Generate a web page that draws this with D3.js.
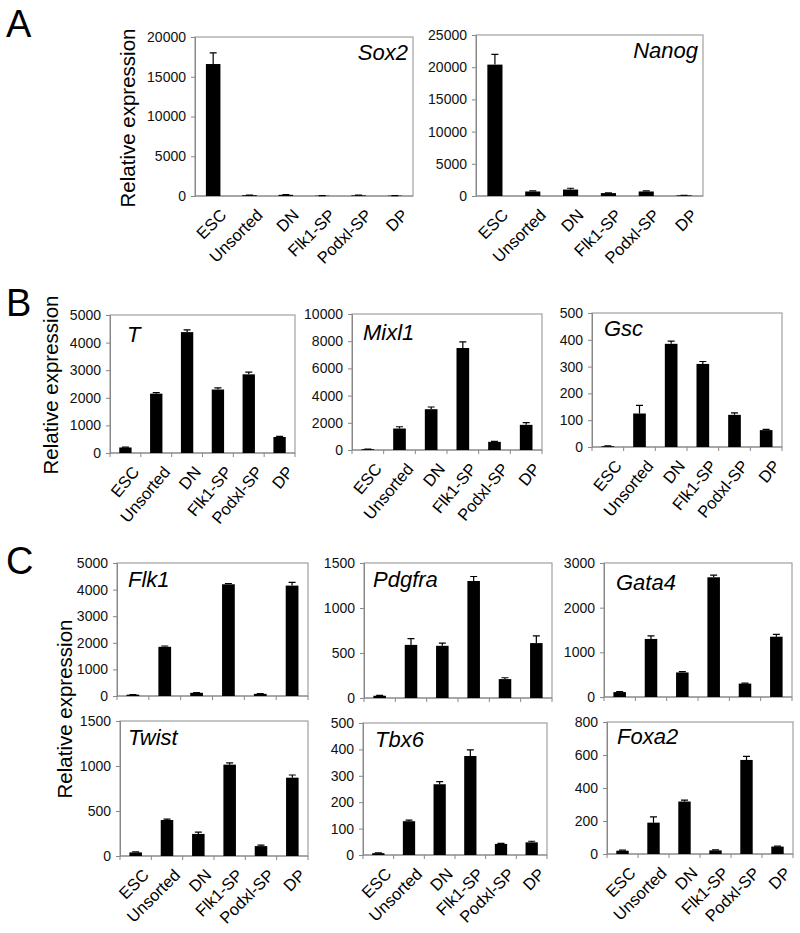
<!DOCTYPE html>
<html><head><meta charset="utf-8">
<script src="https://cdn.jsdelivr.net/npm/d3@7"></script>
<style>body{margin:0;background:#fff}svg{display:block;font-family:"Liberation Sans",Arial,sans-serif}</style>
</head><body><svg id="c" width="800" height="933"></svg>
<script>
const categories = ["ESC","Unsorted","DN","Flk1-SP","Podxl-SP","DP"];

const sox2Values = [16600,100,150,30,80,40];
const sox2Errors = [1400,20,30,10,20,10];
const sox2Ticks = [0,5000,10000,15000,20000];

const nanogValues = [20400,700,1000,450,700,100];
const nanogErrors = [1600,100,200,50,100,20];
const nanogTicks = [0,5000,10000,15000,20000,25000];

const tValues = [200,2150,4380,2300,2850,580];
const tErrors = [15,40,80,60,80,25];
const tTicks = [0,1000,2000,3000,4000,5000];

const mixl1Values = [60,1580,3000,7500,600,1850];
const mixl1Errors = [10,130,160,450,30,160];
const mixl1Ticks = [0,2000,4000,6000,8000,10000];

const gscValues = [3,125,385,310,120,63];
const gscErrors = [1,30,10,9,7,3];
const gscTicks = [0,100,200,300,400,500];

const flk1Values = [50,1850,120,4200,80,4150];
const flk1Errors = [5,30,10,30,8,120];
const flk1Ticks = [0,1000,2000,3000,4000,5000];

const pdgfraValues = [25,590,580,1300,210,610];
const pdgfraErrors = [5,70,30,50,15,80];
const pdgfraTicks = [0,500,1000,1500];

const gata4Values = [110,1300,550,2680,300,1350];
const gata4Errors = [10,70,20,50,12,50];
const gata4Ticks = [0,1000,2000,3000];

const twistValues = [40,400,245,1015,110,870];
const twistErrors = [5,10,20,20,10,30];
const twistTicks = [0,500,1000,1500];

const tbx6Values = [7,128,268,375,42,48];
const tbx6Errors = [1,4,10,23,2,4];
const tbx6Ticks = [0,100,200,300,400,500];

const foxa2Values = [20,190,318,22,570,45];
const foxa2Errors = [3,35,8,3,22,3];
const foxa2Ticks = [0,200,400,600,800];

const svg = d3.select("#c");
const FRAME = "#a0a0a0";

function chart(o){
  const {x0,x1,y0,y1,values,errors,ticks,gene,geneRight,labels} = o;
  const g = svg.append("g");
  const x = d3.scaleBand().domain(categories).range([x0,x1]).paddingInner(0).paddingOuter(0);
  const y = d3.scaleLinear().domain([0,d3.max(ticks)]).range([y1,y0]);
  g.append("rect").attr("x",x0).attr("y",y0).attr("width",x1-x0).attr("height",y1-y0)
    .attr("fill","none").attr("stroke",FRAME).attr("stroke-width",1.2);
  const ya = d3.axisLeft(y).tickValues(ticks).tickSize(4).tickPadding(5).tickFormat(d3.format("d"));
  const yg = g.append("g").attr("transform",`translate(${x0},0)`).call(ya);
  yg.select(".domain").attr("stroke","#888");
  yg.selectAll(".tick line").attr("stroke","#888");
  yg.selectAll("text").attr("font-size",14).attr("fill","#111").attr("font-family","Liberation Sans, Arial, sans-serif");
  if(o.xticks){
    const bounds = categories.map(c=>x(c)).concat([x1]);
    g.selectAll(".xt").data(bounds).join("line")
      .attr("x1",d=>d).attr("x2",d=>d).attr("y1",y1).attr("y2",y1+4).attr("stroke","#888");
  }
  g.append("line").attr("x1",x0).attr("x2",x1).attr("y1",y1).attr("y2",y1).attr("stroke","#888").attr("stroke-width",1.2);
  const bw = x.bandwidth()*0.4;
  const cx = c=>x(c)+x.bandwidth()/2;
  g.selectAll(".bar").data(categories).join("rect")
    .attr("x",(c)=>cx(c)-bw/2).attr("width",bw)
    .attr("y",(c,i)=>y(values[i])).attr("height",(c,i)=>y1-y(values[i])).attr("fill","#000");
  g.selectAll(".eb").data(categories).join("path")
    .attr("d",(c,i)=>{const xc=cx(c),yt=y(values[i]+errors[i]),yb=y(values[i]);
      return `M${xc},${yb}V${yt}M${xc-3.5},${yt}H${xc+3.5}`;})
    .attr("stroke","#000").attr("stroke-width",1.2).attr("fill","none");
  const gl = g.append("text").text(gene).attr("font-style","italic").attr("font-size",o.geneSize||22)
    .attr("y",y0+(o.geneDy||24)).attr("fill","#000");
  if(geneRight) gl.attr("x",x1-5).attr("text-anchor","end"); else gl.attr("x",x0+(o.geneDx||12));
  if(labels){
    const ang = o.angle||45;
    g.selectAll(".xl").data(categories).join("text")
      .attr("transform",c=>`translate(${cx(c)+6},${y1+12}) rotate(-${ang})`)
      .attr("text-anchor","end").attr("dy","0.7em").attr("font-size",16.5).attr("fill","#000")
      .text(c=>c);
  }
}

chart({x0:195,x1:413,y0:37,y1:196,values:sox2Values,errors:sox2Errors,ticks:sox2Ticks,gene:"Sox2",geneRight:true,labels:true,geneSize:22,geneDy:23});
chart({x0:476,x1:703,y0:35,y1:196,values:nanogValues,errors:nanogErrors,ticks:nanogTicks,gene:"Nanog",geneRight:true,labels:true,geneSize:22,geneDy:23});

chart({x0:110,x1:295,y0:315,y1:453,values:tValues,errors:tErrors,ticks:tTicks,gene:"T",labels:true,xticks:true,geneDx:17,geneDy:27,angle:50});
chart({x0:352,x1:542,y0:314,y1:450,values:mixl1Values,errors:mixl1Errors,ticks:mixl1Ticks,gene:"Mixl1",labels:true,xticks:true,geneDx:11,geneDy:26,angle:50});
chart({x0:592,x1:782,y0:313,y1:447,values:gscValues,errors:gscErrors,ticks:gscTicks,gene:"Gsc",labels:true,xticks:true,geneDx:12,geneDy:23,angle:50});

chart({x0:117,x1:308,y0:563,y1:696,values:flk1Values,errors:flk1Errors,ticks:flk1Ticks,gene:"Flk1",labels:false,xticks:true,geneDx:11,geneDy:24});
chart({x0:364,x1:552,y0:563,y1:698,values:pdgfraValues,errors:pdgfraErrors,ticks:pdgfraTicks,gene:"Pdgfra",labels:false,xticks:true,geneDx:9,geneDy:24});
chart({x0:604,x1:792,y0:563,y1:697,values:gata4Values,errors:gata4Errors,ticks:gata4Ticks,gene:"Gata4",labels:false,xticks:true,geneDx:12,geneDy:27});

chart({x0:120,x1:308,y0:721,y1:856,values:twistValues,errors:twistErrors,ticks:twistTicks,gene:"Twist",labels:true,xticks:true,geneDx:8,geneDy:24});
chart({x0:363,x1:547,y0:723,y1:855,values:tbx6Values,errors:tbx6Errors,ticks:tbx6Ticks,gene:"Tbx6",labels:true,xticks:true,geneDx:12,geneDy:24});
chart({x0:607,x1:793,y0:722,y1:854,values:foxa2Values,errors:foxa2Errors,ticks:foxa2Ticks,gene:"Foxa2",labels:true,xticks:true,geneDx:10,geneDy:22});

[[135,118],[58,385],[72,709]].forEach(([xx,yy])=>{
  svg.append("text").attr("transform",`translate(${xx},${yy}) rotate(-90)`).attr("text-anchor","middle")
    .attr("font-size",20.5).attr("fill","#000").text("Relative expression");
});
[["A",6,37],["B",6,316],["C",6,574]].forEach(([t,xx,yy])=>{
  svg.append("text").attr("x",xx).attr("y",yy).attr("font-size",38).attr("fill","#000").text(t);
});
</script></body></html>
